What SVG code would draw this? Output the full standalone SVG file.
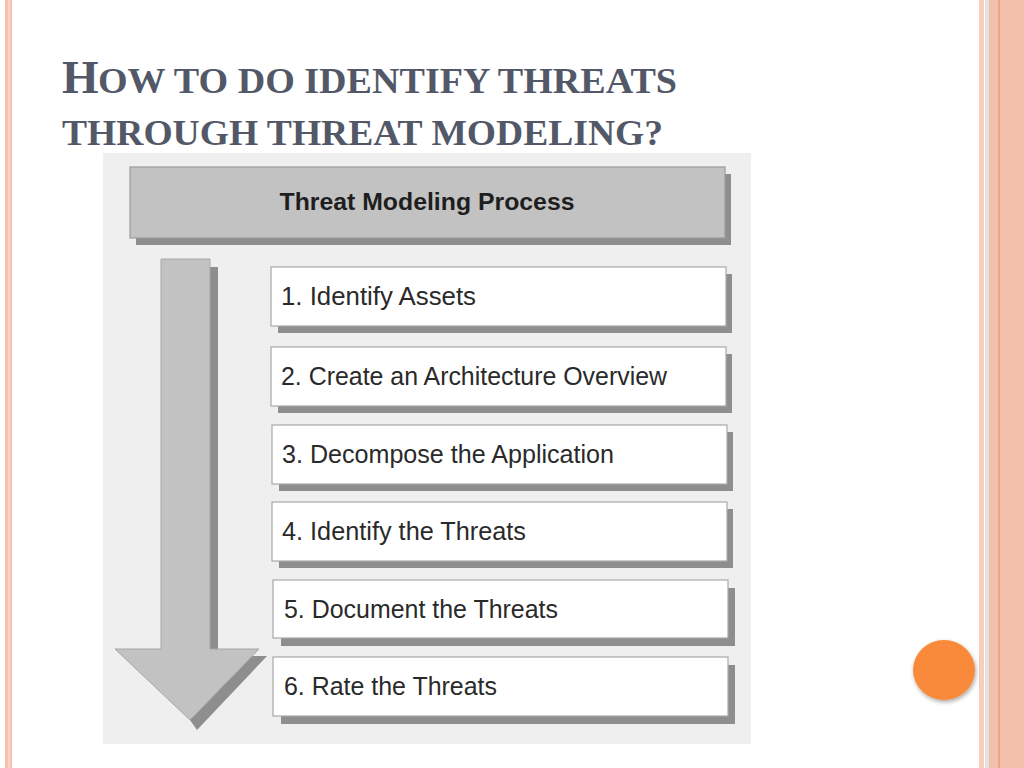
<svg xmlns="http://www.w3.org/2000/svg" width="1024" height="768" viewBox="0 0 1024 768">
<defs>
<style>
.title{font-family:"Liberation Serif","Times New Roman",serif;font-weight:bold;fill:#525867;}
.hdr{font-family:"Liberation Sans",Arial,sans-serif;font-weight:bold;font-size:23px;fill:#1e1e1e;}
.lbl{font-family:"Liberation Sans",Arial,sans-serif;font-size:25px;fill:#2a2a2a;}
.shadow{fill:#8e8e8e;}
.box{fill:#ffffff;stroke:#a8a8a8;stroke-width:1.2;}
.hbox{fill:#c2c2c2;stroke:#9a9a9a;stroke-width:1.2;}
</style>
<filter id="soft" x="-30%" y="-30%" width="160%" height="160%">
<feGaussianBlur in="SourceAlpha" stdDeviation="2"/>
<feOffset dx="1" dy="2"/>
<feComponentTransfer><feFuncA type="linear" slope="0.35"/></feComponentTransfer>
<feMerge><feMergeNode/><feMergeNode in="SourceGraphic"/></feMerge>
</filter>
</defs>
<rect x="0" y="0" width="1024" height="768" fill="#ffffff"/>
<!-- side decorations -->
<rect x="5" y="0" width="7" height="768" fill="#f8c2b0"/>
<rect x="8" y="0" width="2" height="768" fill="#fbd3c5"/>
<rect x="979" y="0" width="5" height="768" fill="#f9cdbd"/>
<rect x="985" y="0" width="4" height="768" fill="#e3e3e3"/>
<rect x="989" y="0" width="35" height="768" fill="#f2c0ab"/>
<rect x="998" y="0" width="2" height="768" fill="#eea585"/>
<!-- title -->
<text class="title" x="62" y="93"><tspan font-size="47">H</tspan><tspan font-size="36" x="98" textLength="579" lengthAdjust="spacingAndGlyphs">OW TO DO IDENTIFY THREATS</tspan></text>
<text class="title" x="62" y="145" font-size="36" textLength="601" lengthAdjust="spacingAndGlyphs">THROUGH THREAT MODELING?</text>
<!-- diagram panel -->
<rect x="103" y="153" width="648" height="591" fill="#efefef"/>
<!-- header node -->
<g id="header">
<rect class="shadow" x="136" y="174" width="595" height="71"/>
<rect class="hbox" x="130" y="167" width="595" height="71"/>
<text class="hdr" x="427" y="210" text-anchor="middle" textLength="295" lengthAdjust="spacingAndGlyphs">Threat Modeling Process</text>
</g>
<!-- connectors: process flow arrow -->
<g id="connectors">
<polygon class="shadow" points="210,267 218,267 218,656 267,656 197,730 190,720 259,649 210,649"/>
<polygon points="161,259 210,259 210,649 259,649 190,720 115,649 161,649" fill="#c2c2c2" stroke="#a6a6a6" stroke-width="1"/>
</g>
<g id="step1">
<rect class="shadow" x="278" y="274" width="454" height="59"/>
<rect class="box" x="271" y="267" width="455" height="59"/>
<text class="lbl" x="281" y="305" textLength="195" lengthAdjust="spacingAndGlyphs">1. Identify Assets</text>
</g>
<g id="step2">
<rect class="shadow" x="278" y="354" width="454" height="59"/>
<rect class="box" x="271" y="347" width="455" height="59"/>
<text class="lbl" x="281" y="385" textLength="386" lengthAdjust="spacingAndGlyphs">2. Create an Architecture Overview</text>
</g>
<g id="step3">
<rect class="shadow" x="279" y="432" width="454" height="59"/>
<rect class="box" x="272" y="425" width="455" height="59"/>
<text class="lbl" x="282" y="463" textLength="332" lengthAdjust="spacingAndGlyphs">3. Decompose the Application</text>
</g>
<g id="step4">
<rect class="shadow" x="279" y="509" width="454" height="59"/>
<rect class="box" x="272" y="502" width="455" height="59"/>
<text class="lbl" x="282" y="540" textLength="244" lengthAdjust="spacingAndGlyphs">4. Identify the Threats</text>
</g>
<g id="step5">
<rect class="shadow" x="281" y="588" width="454" height="58"/>
<rect class="box" x="273" y="580" width="455" height="58"/>
<text class="lbl" x="284" y="618" textLength="274" lengthAdjust="spacingAndGlyphs">5. Document the Threats</text>
</g>
<g id="step6">
<rect class="shadow" x="281" y="665" width="454" height="59"/>
<rect class="box" x="273" y="657" width="455" height="59"/>
<text class="lbl" x="284" y="695" textLength="213" lengthAdjust="spacingAndGlyphs">6. Rate the Threats</text>
</g>
<!-- orange dot -->
<ellipse cx="944" cy="670" rx="31" ry="30" fill="#f98a3a" filter="url(#soft)"/>
</svg>
